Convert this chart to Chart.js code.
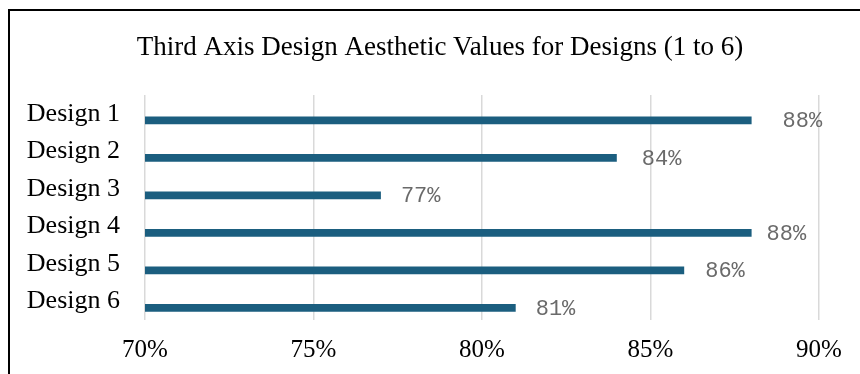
<!DOCTYPE html>
<html>
<head>
<meta charset="utf-8">
<script src="https://cdn.jsdelivr.net/npm/chart.js@4"></script>
<style>
    html, body {margin: 0; padding: 0; background: #fff;}
    #wrap {position: relative; width: 860px; height: 374px; overflow: hidden;}
    #frame {position: absolute; left: 8px; top: 9px; width: 900px; height: 420px; border: 2px solid #000; box-sizing: border-box;}
    #myChart {position: absolute; left: 0; top: 0;}
</style>
</head>
<body>
<div id="wrap">
    <div id="frame"></div>
    <canvas id="myChart" width="860" height="374"></canvas>
</div>
<script>
const designs = ['Design 1', 'Design 2', 'Design 3', 'Design 4', 'Design 5', 'Design 6'];
const aestheticValues = [88, 84, 77, 88, 86, 81];
const blankValues = [null, null, null, null, null, null];
const tickValues = [70, 75, 80, 85, 90];
const chartTitle = 'Third Axis Design Aesthetic Values for Designs (1 to 6)';

// gap between bar end and its label, read per bar
const labelGap = [31, 25, 20, 15, 21, 20];

const serif = '"Liberation Serif", "Times New Roman", serif';

// title sits centred on the frame, not on the plot, so draw it here
const frameTitle = {
    id: 'frameTitle',
    afterDraw(chart) {
        const c = chart.ctx, a = chart.chartArea;
        c.save();
        c.font = '27px ' + serif;
        c.fillStyle = '#000';
        c.textAlign = 'center';
        c.textBaseline = 'middle';
        c.fillText(chartTitle, (a.left + a.right) / 2 - 42, a.top - 47);
        c.restore();
    }
};

const barLabels = {
    id: 'barLabels',
    afterDatasetsDraw(chart) {
        const c = chart.ctx, meta = chart.getDatasetMeta(1);
        c.save();
        c.font = '22px "Liberation Mono", monospace';
        c.fillStyle = '#6a6a6a';
        c.textBaseline = 'middle';
        c.textAlign = 'left';
        meta.data.forEach(function (bar, i) {
            c.fillText(aestheticValues[i] + '%', bar.x + labelGap[i], bar.y + 1);
        });
        c.restore();
    }
};

const myChart = new Chart(document.getElementById('myChart'), {
    type: 'bar',
    plugins: [barLabels, frameTitle],
    data: {
        labels: designs,
        datasets: [
            {label: 'blank', data: blankValues, backgroundColor: 'rgba(0,0,0,0)'},
            {label: 'Aesthetic', data: aestheticValues, backgroundColor: '#1b5e7f'}
        ]
    },
    options: {
        indexAxis: 'y',
        responsive: false,
        animation: false,
        categoryPercentage: 0.7,
        barPercentage: 0.6,
        layout: {padding: {top: 95, right: 41, bottom: -6, left: 0}},
        plugins: {
            legend: {display: false},
            tooltip: {enabled: false},
            title: {display: false}
        },
        scales: {
            x: {
                min: 70, max: 90,
                afterBuildTicks: function (scale) {
                    scale.ticks = tickValues.map(function (v) { return {value: v}; });
                },
                ticks: {
                    color: '#000',
                    padding: 15,
                    font: {family: serif, size: 25},
                    callback: function (v) { return v + '%'; }
                },
                grid: {color: '#d9d9d9', lineWidth: 1.5, drawTicks: false},
                border: {display: false}
            },
            y: {
                afterFit: function (scale) {
                    scale.width = 145;
                    scale.paddingTop = 0;
                    scale.paddingBottom = 0;
                },
                ticks: {
                    color: '#000',
                    padding: 25,
                    font: {family: serif, size: 26}
                },
                grid: {display: false, drawTicks: false},
                border: {display: false}
            }
        }
    }
});
</script>
</body>
</html>
